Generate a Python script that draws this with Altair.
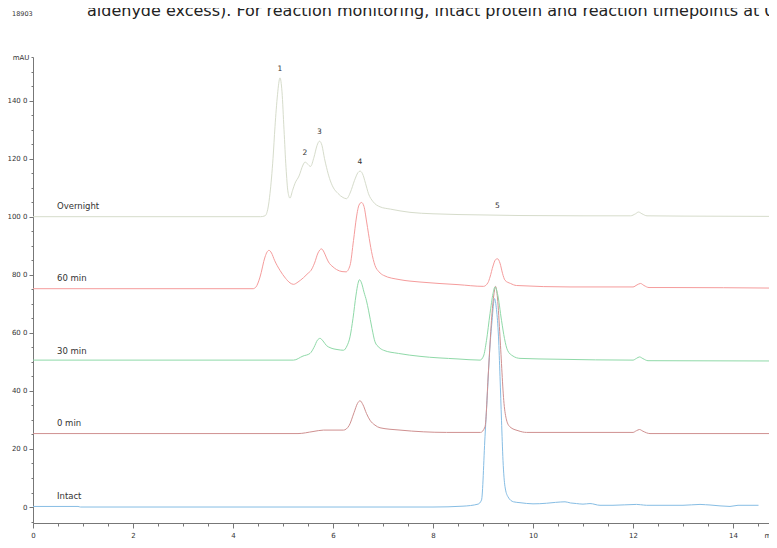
import altair as alt
import pandas as pd

series_names = ["Intact", "0 min", "30 min", "60 min", "Overnight"]
series_colors = ["#86bde4", "#cf9090", "#8fd9a8", "#f59c9c", "#d6dccb"]
baselines = [0, 25, 50, 75, 100]

intact_t = [0, 0.9, 0.95, 8.0, 8.6, 8.90, 8.97, 9.04, 9.09, 9.13, 9.18, 9.23, 9.27, 9.31, 9.34, 9.37, 9.40,
            9.44, 9.50, 9.61, 9.74, 10.0, 10.27, 10.45, 10.64, 10.75, 10.87, 11.0, 11.14, 11.34, 11.6, 12.07,
            12.15, 12.27, 13.0, 13.34, 13.45, 13.54, 13.94, 14.1, 14.51]
intact_v = [0.2, 0.2, 0.0, 0.0, 0.3, 1.0, 2.4, 24.2, 40.0, 52.9, 64.0, 71.8, 68.0, 58.6, 45.0, 29.9, 16.0,
            7.0, 3.5, 1.8, 1.5, 1.1, 1.3, 1.6, 1.8, 1.4, 1.2, 1.0, 1.2, 0.6, 0.6, 0.9,
            0.8, 0.6, 0.6, 0.9, 0.8, 0.7, 0.2, 0.6, 0.6]

min0_t = [0, 5.3, 5.6, 5.81, 6.21, 6.32, 6.42, 6.49, 6.54, 6.60, 6.67, 6.74, 6.84, 6.94, 7.34, 8.27, 8.95,
          9.04, 9.11, 9.17, 9.22, 9.25, 9.29, 9.34, 9.42, 9.47, 9.54, 9.70, 9.87, 12.0, 12.07, 12.13, 12.20,
          12.34, 14.88]
min0_v = [25.3, 25.3, 26.0, 26.5, 26.5, 28.0, 32.5, 35.7, 36.6, 35.2, 32.2, 29.9, 28.2, 27.3, 26.5, 25.7, 25.7,
          27.6, 47.1, 64.3, 73.5, 76.0, 72.0, 58.6, 35.7, 30.0, 27.6, 26.3, 25.7, 25.7, 26.3, 26.7, 26.1,
          25.3, 25.3]

min30_t = [0, 5.0, 5.21, 5.40, 5.54, 5.62, 5.69, 5.74, 5.80, 5.87, 5.94, 6.10, 6.21, 6.28, 6.34, 6.40, 6.46,
           6.50, 6.53, 6.57, 6.62, 6.67, 6.71, 6.78, 6.84, 6.92, 7.01, 7.31, 7.74, 8.5, 8.94, 9.01, 9.07,
           9.14, 9.20, 9.24, 9.29, 9.37, 9.43, 9.49, 9.60, 9.74, 10.5, 12.0, 12.07, 12.13, 12.20, 12.30, 14.88]
min30_v = [50.6, 50.6, 50.6, 52.0, 52.9, 55.0, 57.5, 58.1, 57.2, 55.6, 54.9, 54.2, 54.0, 55.5, 58.6, 65.0, 73.0,
           77.0, 78.3, 77.2, 74.0, 71.0, 67.8, 61.5, 56.9, 55.0, 54.0, 52.9, 51.9, 51.0, 50.6, 52.0, 57.4,
           66.6, 73.5, 75.8, 73.5, 64.3, 58.0, 54.0, 52.0, 51.2, 50.9, 50.6, 51.2, 51.7, 51.1, 50.4, 50.3]

min60_t = [0, 4.40, 4.46, 4.54, 4.64, 4.68, 4.72, 4.77, 4.83, 4.94, 5.05, 5.14, 5.21, 5.30, 5.41, 5.50, 5.56,
           5.63, 5.70, 5.77, 5.82, 5.87, 5.91, 6.00, 6.07, 6.18, 6.26, 6.34, 6.41, 6.47, 6.52, 6.57, 6.62,
           6.67, 6.71, 6.77, 6.84, 6.92, 7.01, 7.34, 7.74, 8.5, 9.01, 9.10, 9.14, 9.20, 9.25, 9.29, 9.34,
           9.39, 9.44, 9.55, 9.67, 10.74, 12.0, 12.08, 12.15, 12.22, 12.32, 12.74, 14.88]
min60_v = [75.2, 75.2, 75.8, 79.2, 86.1, 87.8, 88.4, 87.5, 85.0, 81.5, 78.8, 77.2, 76.7, 77.5, 79.0, 80.5, 81.5,
           84.0, 87.5, 88.9, 87.8, 85.8, 84.4, 82.7, 81.8, 81.1, 81.0, 83.2, 91.8, 99.9, 104.0, 104.9, 103.5,
           98.5, 94.1, 88.0, 83.2, 81.0, 79.8, 78.3, 77.5, 76.6, 76.0, 77.3, 79.2, 83.0, 85.2, 85.5, 84.0,
           80.5, 78.1, 77.0, 76.3, 75.8, 75.8, 76.5, 77.0, 76.3, 75.6, 75.6, 75.4]

overnight_t = [0, 4.55, 4.64, 4.70, 4.74, 4.80, 4.84, 4.89, 4.94, 4.98, 5.02, 5.06, 5.10, 5.14, 5.19, 5.24,
               5.32, 5.40, 5.44, 5.49, 5.55, 5.62, 5.68, 5.73, 5.78, 5.83, 5.87, 5.93, 6.00, 6.10, 6.20, 6.27,
               6.35, 6.43, 6.50, 6.54, 6.59, 6.65, 6.71, 6.80, 6.94, 7.15, 7.34, 7.54, 8.0, 9.0, 9.74, 11.0,
               11.95, 12.05, 12.11, 12.18, 12.28, 13.0, 14.88]
overnight_v = [100.0, 100.0, 100.3, 103.0, 108.0, 120.0, 131.0, 142.0, 147.8, 143.0, 130.0, 117.0, 108.5, 106.4,
               109.0, 111.5, 114.0, 117.8, 118.8, 118.2, 117.3, 120.5, 124.5, 126.0, 124.5, 120.0, 117.0, 113.2,
               110.2, 108.0, 106.6, 106.2, 108.5, 112.5, 115.2, 115.7, 114.8, 111.5, 107.9, 105.2, 103.4, 102.6,
               102.0, 101.5, 101.0, 100.6, 100.4, 100.3, 100.3, 101.0, 101.6, 101.0, 100.3, 100.2, 100.1]

peak_labels = ["1", "2", "3", "4", "5"]
peak_t = [4.94, 5.44, 5.73, 6.54, 9.29]
peak_v = [147.8, 118.8, 126.0, 115.7, 100.5]

x_ticks = [i * 0.5 for i in range(30)]
y_ticks = list(range(-5, 160, 5))

traces = [(intact_t, intact_v), (min0_t, min0_v), (min30_t, min30_v), (min60_t, min60_v), (overnight_t, overnight_v)]
rows = []
for name, (ts, vs) in zip(series_names, traces):
    for t, v in zip(ts, vs):
        rows.append({"t": t, "v": v, "series": name})
df = pd.DataFrame(rows)

label_df = pd.DataFrame({"series": series_names, "t": [0.48] * 5, "v": baselines})
peak_df = pd.DataFrame({"label": peak_labels, "t": peak_t, "v": peak_v})
top_df = pd.DataFrame({"txt": ["18903"]})
head_df = pd.DataFrame({"txt": ["aldehyde excess). For reaction monitoring, intact protein and reaction timepoints at 0"]})

x_scale = alt.Scale(domain=[0, 14.72], nice=False, zero=False)
y_scale = alt.Scale(domain=[-5.5, 155], nice=False, zero=False)

x_axis = alt.Axis(
    values=x_ticks,
    labelExpr="datum.value % 2 === 0 ? '' + datum.value : ''",
    tickSize={"condition": {"test": "datum.value % 2 === 0", "value": 5}, "value": 3},
    labelPadding=3, labelOverlap=False, labelFlush=False, grid=False,
    title="min", titleX=731, titleY=12, titleAlign="left", titleBaseline="middle",
    titleFontSize=7, titleFontWeight="normal", titleFont="DejaVu Sans", titleColor="#333333",
)
y_axis = alt.Axis(
    values=y_ticks,
    labelExpr="datum.value == 155 ? 'mAU' : (datum.value % 20 == 0 ? (datum.value == 0 ? '0' : datum.value + ' 0') : '')",
    tickSize={"condition": {"test": "datum.value % 20 === 0", "value": 4}, "value": 2},
    labelPadding=2, labelOverlap=False, labelFlush=False, grid=False, title=None,
)

color_scale = alt.Scale(domain=series_names, range=series_colors)
X = lambda: alt.X("t:Q", scale=x_scale, axis=x_axis)
Y = lambda: alt.Y("v:Q", scale=y_scale, axis=y_axis)

lines = alt.Chart(df).mark_line(strokeWidth=1, interpolate="monotone", clip=True).encode(
    x=X(), y=Y(),
    color=alt.Color("series:N", scale=color_scale, legend=None),
)

names = alt.Chart(label_df).mark_text(
    align="left", baseline="middle", dy=-11, font="DejaVu Sans", fontSize=8.5, color="#333333"
).encode(x=X(), y=Y(), text="series:N")

peaks = alt.Chart(peak_df).mark_text(
    align="center", baseline="bottom", dy=-5, font="DejaVu Sans", fontSize=7.5, color="#333333"
).encode(x=X(), y=Y(), text="label:N")

top_small = alt.Chart(top_df).mark_text(
    align="left", baseline="middle", font="DejaVu Sans", fontSize=6.5, color="#333333"
).encode(x=alt.value(-21), y=alt.value(-43), text="txt:N")

top_big = alt.Chart(head_df).mark_text(
    align="left", baseline="alphabetic", font="DejaVu Sans", fontSize=16, color="#222222"
).encode(x=alt.value(54), y=alt.value(-41), text="txt:N")

chart = alt.layer(lines, names, peaks, top_small, top_big).properties(
    width=736, height=466,
    autosize=alt.AutoSizeParams(type="none"),
    padding={"left": 25, "top": 49, "right": 0, "bottom": 17},
    background="white",
).configure_view(stroke=None).configure_axis(
    domainColor="#777777", tickColor="#777777", domainWidth=1, tickWidth=1,
    labelFont="DejaVu Sans", labelFontSize=7, labelColor="#333333",
)

chart.save("out.html", embed_options={"renderer": "svg", "actions": False})
